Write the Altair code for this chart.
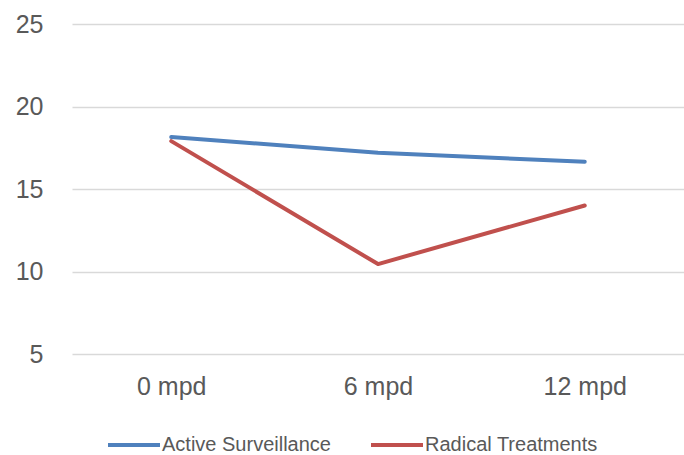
import altair as alt
import pandas as pd

# Time points and mean scores per treatment group
timepoints = ["0 mpd", "6 mpd", "12 mpd"]
active_surveillance = [18.15, 17.2, 16.65]
radical_treatments = [17.9, 10.45, 14.0]
series_names = ["Active Surveillance", "Radical Treatments"]
series_colors = ["#4F81BD", "#C0504D"]

rows = []
for t, v in zip(timepoints, active_surveillance):
    rows.append({"time": t, "value": v, "group": series_names[0]})
for t, v in zip(timepoints, radical_treatments):
    rows.append({"time": t, "value": v, "group": series_names[1]})
df = pd.DataFrame(rows)

FONT = "Liberation Sans"
TEXT = "#595959"

chart = (
    alt.Chart(df)
    .mark_line(strokeWidth=4, strokeCap="round", strokeJoin="round")
    .encode(
        x=alt.X(
            "time:N",
            sort=timepoints,
            scale=alt.Scale(type="point", padding=0.48),
            axis=alt.Axis(
                title=None,
                labelAngle=0,
                domain=False,
                ticks=False,
                grid=False,
                labelFont=FONT,
                labelFontSize=25,
                labelColor=TEXT,
                labelPadding=20,
            ),
        ),
        y=alt.Y(
            "value:Q",
            scale=alt.Scale(domain=[5, 25], nice=False, zero=False),
            axis=alt.Axis(
                title=None,
                values=[5, 10, 15, 20, 25],
                domain=False,
                ticks=False,
                gridColor="#D9D9D9",
                gridWidth=1.5,
                labelFont=FONT,
                labelFontSize=25,
                labelColor=TEXT,
                labelPadding=29,
            ),
        ),
        color=alt.Color(
            "group:N",
            sort=series_names,
            scale=alt.Scale(domain=series_names, range=series_colors),
            legend=alt.Legend(
                title=None,
                orient="none",
                legendX=34,
                legendY=393,
                direction="horizontal",
                symbolType="stroke",
                symbolSize=2704,
                symbolStrokeWidth=4,
                labelFont=FONT,
                labelFontSize=20,
                labelColor=TEXT,
                labelOffset=0,
                labelLimit=400,
                columnPadding=32,
                padding=0,
            ),
        ),
    )
    .properties(
        width=612,
        height=330,
        background="white",
        autosize=alt.AutoSizeParams(type="none"),
        padding={"left": 72, "top": 24, "right": 0, "bottom": 101},
    )
    .configure_view(stroke="transparent", strokeWidth=0)
)

chart.save("out.html", embed_options={"renderer": "svg", "actions": False})
